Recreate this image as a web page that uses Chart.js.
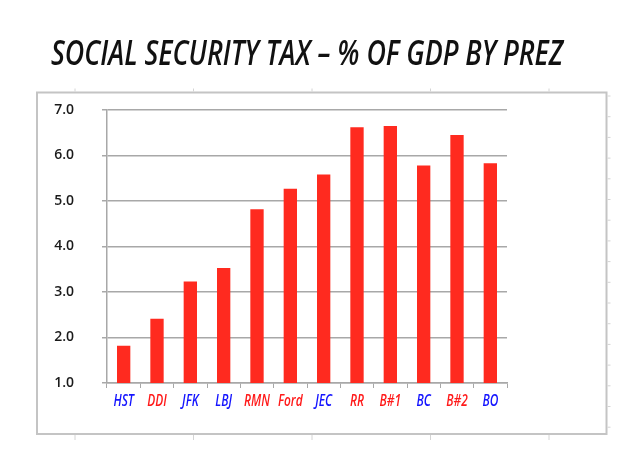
<!DOCTYPE html>
<html>
<head>
<meta charset="utf-8">
<script src="https://cdn.jsdelivr.net/npm/chart.js@4"></script>
<style>
  html, body { margin: 0; padding: 0; background: #fff; }
  #wrap { position: relative; width: 640px; height: 458px; }
  #title {
    position: absolute; left: 51px; top: 29px; margin: 0;
    font: italic 600 34px "Open Sans", sans-serif;
    color: #111; white-space: nowrap; transform-origin: 0 0;
  }
</style>
</head>
<body>
<div id="wrap">
  <canvas id="chart" width="640" height="458"></canvas>
  <div id="title">SOCIAL SECURITY TAX – % OF GDP BY PREZ</div>
</div>
<script>
// presidents, party colour, and SS tax as % of GDP
const presidents = ['HST', 'DDI', 'JFK', 'LBJ', 'RMN', 'Ford', 'JEC', 'RR', 'B#1', 'BC', 'B#2', 'BO'];
const parties = ['D', 'R', 'D', 'D', 'R', 'R', 'D', 'R', 'R', 'D', 'R', 'D'];
const taxPctGdp = [1.82, 2.41, 3.23, 3.53, 4.82, 5.27, 5.58, 6.62, 6.65, 5.78, 6.45, 5.83];
const yTicks = [1, 2, 3, 4, 5, 6, 7];

const partyColor = { D: '#1414ff', R: '#ff1a1a' };

// squeeze the title to the width it has in the picture
const titleEl = document.getElementById('title');
titleEl.style.transform = 'scaleX(' + (512 / titleEl.scrollWidth) + ')';

// outer frame with the little tick marks round it
const framePlugin = {
    id: 'frame',
    beforeDraw(chart) {
        const ctx = chart.ctx;
        const left = 37, top = 92.5, right = 606.5, bottom = 434;
        ctx.save();
        ctx.strokeStyle = '#c4c4c4';
        ctx.lineWidth = 2;
        ctx.strokeRect(left, top, right - left, bottom - top);
        ctx.lineWidth = 1;
        ctx.strokeStyle = '#d4d4d4';
        for (let x = 75; x < right; x += 118.5) {
            ctx.beginPath();
            ctx.moveTo(x, top - 1); ctx.lineTo(x, top - 4);
            ctx.moveTo(x, bottom + 1); ctx.lineTo(x, bottom + 6);
            ctx.stroke();
        }
        for (let y = 96; y < bottom; y += 20.7) {
            ctx.beginPath();
            ctx.moveTo(right + 1, y); ctx.lineTo(right + 4, y);
            ctx.stroke();
        }
        ctx.restore();
    }
};

// condensed italic category labels, coloured by party
const condensedLabels = {
    id: 'condensedLabels',
    afterDraw(chart) {
        const ctx = chart.ctx;
        const xs = chart.scales.x;
        const squeeze = 0.7;
        ctx.save();
        ctx.font = 'italic 600 17px "Open Sans", sans-serif';
        ctx.textAlign = 'center';
        ctx.textBaseline = 'middle';
        presidents.forEach((name, i) => {
            const x = xs.getPixelForTick(i);
            const y = xs.top + 18.5;
            ctx.save();
            ctx.translate(x, y);
            ctx.scale(squeeze, 1);
            ctx.fillStyle = partyColor[parties[i]];
            ctx.fillText(name, 0, 0);
            ctx.restore();
        });
        ctx.restore();
    }
};

const ctx = document.getElementById('chart').getContext('2d');
new Chart(ctx, {
    type: 'bar',
    data: {
        labels: presidents,
        datasets: [{
            label: 'Social Security Tax % of GDP',
            data: taxPctGdp,
            backgroundColor: '#ff2a1f',
            borderWidth: 0,
            barPercentage: 0.4,
            categoryPercentage: 1.0
        }]
    },
    options: {
        responsive: false,
        animation: false,
        layout: { padding: { left: 0, right: 133, top: 110, bottom: 35 } },
        plugins: {
            legend: { display: false },
            title: { display: false },
            tooltip: { enabled: false }
        },
        scales: {
            x: {
                offset: true,
                grid: { display: true, drawOnChartArea: false, drawTicks: true, tickLength: 5, color: '#a8a8a8', offset: true },
                border: { color: '#a8a8a8', width: 1.5 },
                ticks: {
                    padding: 4,
                    autoSkip: false,
                    maxRotation: 0,
                    font: { size: 10 },
                    color: 'rgba(0,0,0,0)'
                },
                afterFit(scale) { scale.height = 40; }
            },
            y: {
                min: yTicks[0],
                max: yTicks[yTicks.length - 1],
                afterBuildTicks(scale) { scale.ticks = yTicks.map(v => ({ value: v })); },
                grid: { color: '#a8a8a8', lineWidth: 1.5, tickLength: 5 },
                border: { color: '#a8a8a8', width: 1.5 },
                ticks: {
                    padding: 28,
                    color: '#1a1a1a',
                    font: { family: '"Open Sans", sans-serif', size: 14, weight: '600' },
                    callback: (v) => Number(v).toFixed(1)
                },
                afterFit(scale) { scale.width = 107; }
            }
        }
    },
    plugins: [framePlugin, condensedLabels]
});
</script>
</body>
</html>
